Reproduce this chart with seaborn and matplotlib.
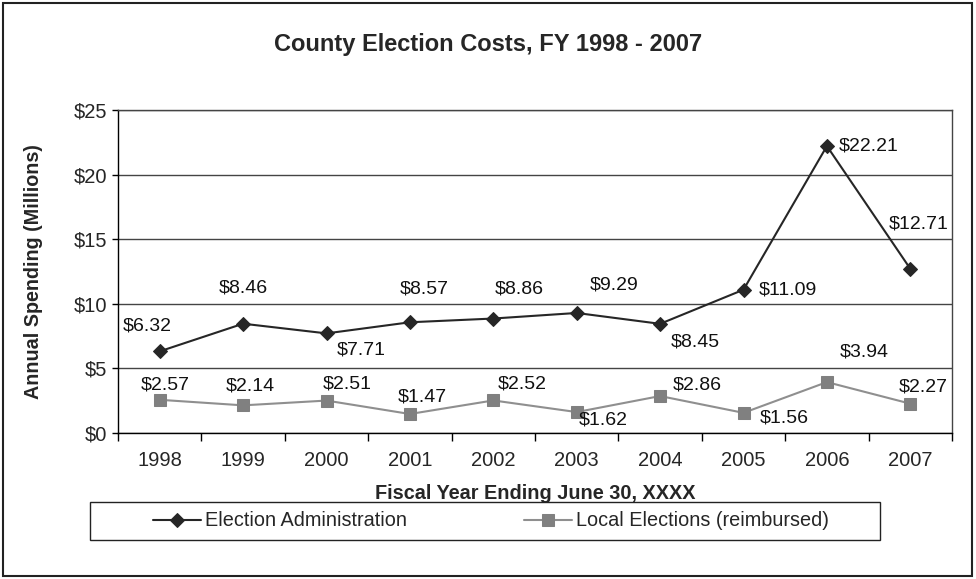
import numpy as np
import pandas as pd
import matplotlib
matplotlib.use("Agg")
import matplotlib.pyplot as plt
from matplotlib.patches import Rectangle
import seaborn as sns

# Data (millions of dollars)
years = [1998, 1999, 2000, 2001, 2002, 2003, 2004, 2005, 2006, 2007]
election_admin = [6.32, 8.46, 7.71, 8.57, 8.86, 9.29, 8.45, 11.09, 22.21, 12.71]
local_elections = [2.57, 2.14, 2.51, 1.47, 2.52, 1.62, 2.86, 1.56, 3.94, 2.27]
series_names = ["Election Administration", "Local Elections (reimbursed)"]

# label offsets (points) for each data label
admin_offsets = [(-9, 18), (0, 26), (25, -12), (10, 24), (19, 21), (27, 20), (25, -13), (32, 0), (30, 0), (6, 32)]
local_offsets = [(4, 11), (5, 14), (15, 12), (9, 12), (21, 12), (19, -6), (27, 8), (29, -4), (27, 22), (9, 12)]

sns.set_theme(style="white")
plt.rcParams['font.family'] = ['Liberation Sans', 'DejaVu Sans']

df = pd.DataFrame({
    "year": years * 2,
    "value": election_admin + local_elections,
    "series": [series_names[0]] * len(years) + [series_names[1]] * len(years),
})

fig = plt.figure(figsize=(9.76, 5.79), dpi=100)
ax = fig.add_axes([118 / 976, 1 - 433 / 579, 834 / 976, 323 / 579])

sns.lineplot(data=df[df.series == series_names[0]], x="year", y="value", ax=ax,
             color="#262626", marker="D", markersize=7, linewidth=1.5,
             markeredgecolor="#262626", label=series_names[0], legend=False)
sns.lineplot(data=df[df.series == series_names[1]], x="year", y="value", ax=ax,
             color="#8f8f8f", marker="s", markersize=8.5, linewidth=1.5,
             markeredgecolor="#808080", markerfacecolor="#808080",
             label=series_names[1], legend=False)

for x, y, off in zip(years, election_admin, admin_offsets):
    ax.annotate(f"${y:.2f}", (x, y), xytext=off, textcoords="offset points",
                ha="center", va="center", fontsize=14, color="#111111")
for x, y, off in zip(years, local_elections, local_offsets):
    ax.annotate(f"${y:.2f}", (x, y), xytext=off, textcoords="offset points",
                ha="center", va="center", fontsize=14, color="#111111")

ax.set_xlim(years[0] - 0.5, years[-1] + 0.5)
ax.set_ylim(0, 25)
ax.set_yticks([0, 5, 10, 15, 20, 25])
ax.set_yticklabels([f"${v}" for v in [0, 5, 10, 15, 20, 25]], fontsize=14.5)
ax.set_xticks(years)
ax.set_xticklabels([str(y) for y in years], fontsize=14.5)
ax.set_xticks(np.arange(years[0] - 0.5, years[-1] + 1), minor=True)
ax.tick_params(axis="x", which="major", length=0, pad=13)
ax.tick_params(axis="x", which="minor", length=6, width=1, color="black", direction="out", bottom=True)
ax.tick_params(axis="y", length=4, width=1, color="black", direction="out", left=True, pad=4)

ax.yaxis.grid(True, color="#444444", linewidth=1)
ax.set_axisbelow(True)
for side in ["left", "bottom"]:
    ax.spines[side].set_color("black")
    ax.spines[side].set_linewidth(1)
for side in ["top", "right"]:
    ax.spines[side].set_color("#444444")
    ax.spines[side].set_linewidth(1)

ax.set_xlabel("Fiscal Year Ending June 30, XXXX", fontsize=14.3, fontweight="bold", labelpad=10)
ax.set_ylabel("Annual Spending (Millions)", fontsize=14.2, fontweight="bold", labelpad=22)

fig.text(488 / 976, 1 - 45 / 579, "County Election Costs, FY 1998 - 2007",
         ha="center", va="center", fontsize=17, fontweight="bold")

# outer chart border and legend box
fig.patches.append(Rectangle((3 / 976, 3 / 579), 969 / 976, 573 / 579, transform=fig.transFigure,
                             fill=False, edgecolor="#222222", linewidth=1.5))
fig.patches.append(Rectangle((90 / 976, 1 - 540 / 579), 790 / 976, 38 / 579, transform=fig.transFigure,
                             fill=False, edgecolor="#222222", linewidth=1))

handles, labels = ax.get_legend_handles_labels()
fig.legend(handles, labels, loc="center", bbox_to_anchor=(491 / 976, 1 - 521 / 579),
           ncol=2, frameon=False, fontsize=14.3, columnspacing=5.9, handlelength=2.4,
           handletextpad=0.2)

fig.savefig("out.png", dpi=100)
